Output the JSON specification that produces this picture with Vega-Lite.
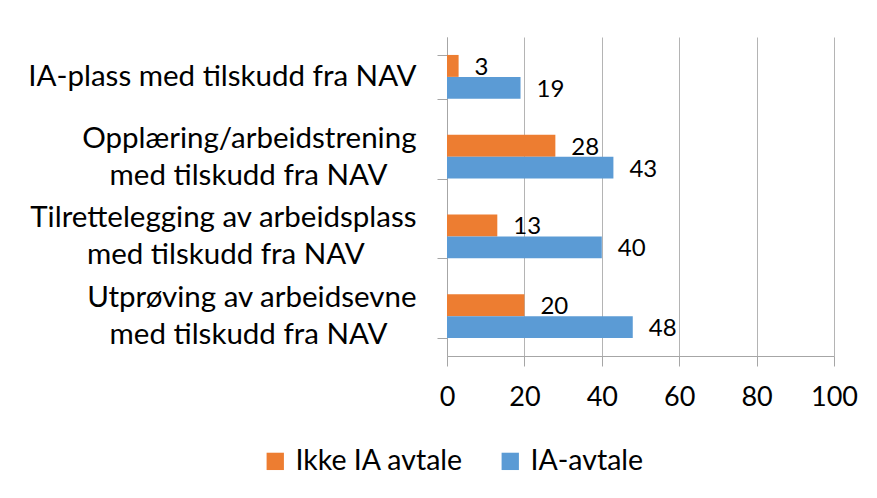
{
  "$schema": "https://vega.github.io/schema/vega-lite/v6.json",
  "autosize": {"type": "none"},
  "width": 387,
  "height": 319,
  "padding": {"left": 447, "top": 37, "right": 43, "bottom": 142},
  "background": "white",
  "config": {
    "view": {"stroke": null},
    "font": "Lato",
    "axis": {"labelFont": "Lato", "labelColor": "#000000", "domainColor": "#a6a6a6", "tickColor": "#a6a6a6", "gridColor": "#b4b4b4"},
    "legend": {"labelFont": "Lato", "labelColor": "#000000"}
  },
  "data": {
    "values": [
      {"tiltak": "IA-plass med tilskudd fra NAV", "gruppe": "Ikke IA avtale", "verdi": 3},
      {"tiltak": "IA-plass med tilskudd fra NAV", "gruppe": "IA-avtale", "verdi": 19},
      {"tiltak": "Opplæring/arbeidstrening med tilskudd fra NAV", "gruppe": "Ikke IA avtale", "verdi": 28},
      {"tiltak": "Opplæring/arbeidstrening med tilskudd fra NAV", "gruppe": "IA-avtale", "verdi": 43},
      {"tiltak": "Tilrettelegging av arbeidsplass med tilskudd fra NAV", "gruppe": "Ikke IA avtale", "verdi": 13},
      {"tiltak": "Tilrettelegging av arbeidsplass med tilskudd fra NAV", "gruppe": "IA-avtale", "verdi": 40},
      {"tiltak": "Utprøving av arbeidsevne med tilskudd fra NAV", "gruppe": "Ikke IA avtale", "verdi": 20},
      {"tiltak": "Utprøving av arbeidsevne med tilskudd fra NAV", "gruppe": "IA-avtale", "verdi": 48}
    ]
  },
  "encoding": {
    "y": {
      "field": "tiltak",
      "type": "nominal",
      "sort": null,
      "scale": {"paddingInner": 0.45, "paddingOuter": 0.225},
      "axis": {
        "title": null,
        "tickBand": "extent",
        "tickSize": 10,
        "labelFontSize": 29.5,
        "labelLineHeight": 18.5,
        "labelAlign": "right",
        "labelBaseline": "middle",
        "labelLimit": 0,
        "labelPadding": 21,
        "labelOffset": -18.5,
        "labelExpr": "indexof(datum.label, 'IA-plass') == 0 ? ['\u200b', datum.label] : indexof(datum.label, 'Tilrettelegging') == 0 ? ['Tilrettelegging av arbeidsplass', '\u200b', 'med tilskudd fra NAV\u00a0\u00a0\u00a0\u00a0\u00a0\u00a0\u00a0\u200b'] : indexof(datum.label, 'Opplæring') == 0 ? ['Opplæring/arbeidstrening', '\u200b', 'med tilskudd fra NAV\u00a0\u00a0\u00a0\u00a0\u200b'] : indexof(datum.label, 'Utprøving') == 0 ? ['Utprøving av arbeidsevne', '\u200b', 'med tilskudd fra NAV\u00a0\u00a0\u00a0\u00a0\u200b'] : ''"
      }
    },
    "yOffset": {"field": "gruppe", "type": "nominal", "sort": ["Ikke IA avtale", "IA-avtale"]},
    "x": {
      "field": "verdi",
      "type": "quantitative",
      "scale": {"domain": [0, 100], "nice": false},
      "axis": {
        "title": null,
        "values": [0, 20, 40, 60, 80, 100],
        "grid": true,
        "tickSize": 10,
        "labelFontSize": 27,
        "labelPadding": 18,
        "labelFlush": false
      }
    }
  },
  "layer": [
    {
      "mark": {"type": "bar"},
      "encoding": {
        "color": {
          "field": "gruppe",
          "type": "nominal",
          "scale": {"domain": ["Ikke IA avtale", "IA-avtale"], "range": ["#ED7D31", "#5B9BD5"]},
          "legend": {
            "title": null,
            "orient": "none",
            "direction": "horizontal",
            "legendX": -186,
            "legendY": 410,
            "symbolType": "square",
            "symbolSize": 300,
            "labelFontSize": 28.5,
            "labelLimit": 0,
            "labelOffset": 6,
            "columnPadding": 32,
            "padding": 0
          }
        }
      }
    },
    {
      "mark": {"type": "text", "align": "left", "baseline": "middle", "dx": 16, "dy": 2, "fontSize": 24, "color": "#000000"},
      "encoding": {
        "text": {"field": "verdi", "type": "quantitative"}
      }
    }
  ]
}
